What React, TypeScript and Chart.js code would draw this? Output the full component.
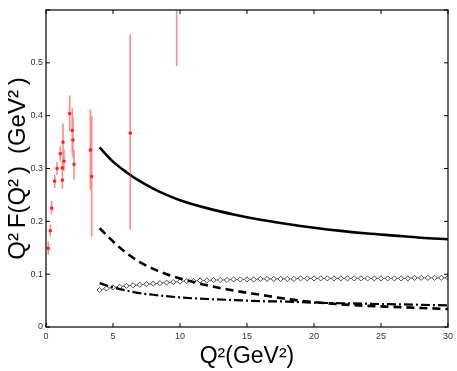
import React, { useEffect, useRef } from 'react';
import { Chart, registerables } from 'chart.js';

Chart.register(...registerables);

// Experimental data points (Q^2, Q^2 F) with error bar ends
const dataQ2 = [0.17, 0.32, 0.42, 0.65, 0.82, 1.07, 1.22, 1.22, 1.27, 1.34, 1.77, 1.96, 2.01, 2.09, 3.31, 3.41, 6.29, 9.75];
const dataF = [0.149, 0.182, 0.225, 0.276, 0.300, 0.328, 0.301, 0.278, 0.350, 0.314, 0.404, 0.372, 0.354, 0.308, 0.335, 0.285, 0.367, 0.700];
const errLow = [0.137, 0.171, 0.213, 0.263, 0.288, 0.314, 0.288, 0.261, 0.317, 0.295, 0.371, 0.330, 0.321, 0.279, 0.260, 0.171, 0.184, 0.494];
const errHigh = [0.162, 0.194, 0.238, 0.288, 0.312, 0.342, 0.314, 0.291, 0.385, 0.336, 0.438, 0.414, 0.397, 0.336, 0.412, 0.400, 0.554, 0.906];

// Solid curve
const solidQ2 = [4, 5, 6, 7, 8, 9, 10, 12, 14, 16, 18, 20, 22, 24, 26, 28, 30];
const solidF = [0.340, 0.313, 0.293, 0.276, 0.262, 0.250, 0.240, 0.225, 0.213, 0.203, 0.195, 0.188, 0.182, 0.177, 0.173, 0.169, 0.166];

// Dashed curve
const dashedQ2 = [4, 5, 6, 7, 8, 9, 10, 12, 14, 16, 18, 20, 22, 24, 26, 28, 30];
const dashedF = [0.187, 0.162, 0.140, 0.123, 0.110, 0.100, 0.092, 0.079, 0.069, 0.061, 0.053, 0.047, 0.043, 0.040, 0.038, 0.036, 0.034];

// Dash-dot curve
const dashDotQ2 = [4, 5, 6, 7, 8, 10, 12, 14, 16, 18, 20, 22, 24, 26, 28, 30];
const dashDotF = [0.083, 0.075, 0.069, 0.064, 0.061, 0.056, 0.053, 0.051, 0.049, 0.048, 0.046, 0.045, 0.044, 0.043, 0.042, 0.041];

// Diamond curve
const diamondQ2 = [4, 4.5, 5, 5.5, 6, 6.5, 7, 7.5, 8, 8.5, 9, 9.5, 10, 10.5, 11, 11.5, 12, 12.5, 13, 13.5, 14, 14.5, 15, 15.5, 16, 16.5, 17, 17.5, 18, 18.5, 19, 19.5, 20, 20.5, 21, 21.5, 22, 22.5, 23, 23.5, 24, 24.5, 25, 25.5, 26, 26.5, 27, 27.5, 28, 28.5, 29, 29.5, 30];
const diamondF = [0.070, 0.073, 0.075, 0.076, 0.078, 0.079, 0.080, 0.081, 0.082, 0.083, 0.084, 0.085, 0.086, 0.087, 0.087, 0.088, 0.088, 0.089, 0.089, 0.089, 0.090, 0.090, 0.090, 0.090, 0.091, 0.091, 0.091, 0.091, 0.091, 0.091, 0.092, 0.092, 0.092, 0.092, 0.092, 0.092, 0.092, 0.092, 0.092, 0.092, 0.092, 0.092, 0.092, 0.092, 0.092, 0.092, 0.092, 0.093, 0.093, 0.093, 0.093, 0.093, 0.093];

const xTicks = [0, 5, 10, 15, 20, 25, 30];
const yTicks = [0, 0.1, 0.2, 0.3, 0.4, 0.5, 0.6];

const framePlugin = {
  id: 'frame',
  afterDatasetsDraw(chart: any) {
    const { ctx, chartArea } = chart;
    const xs = chart.scales.x;
    const ys = chart.scales.y;
    ctx.save();
    ctx.strokeStyle = '#000';
    ctx.lineWidth = 1.2;
    ctx.strokeRect(chartArea.left, chartArea.top, chartArea.right - chartArea.left, chartArea.bottom - chartArea.top);
    ctx.lineWidth = 1;
    ctx.beginPath();
    const t = 4;
    xTicks.forEach((v) => {
      const px = xs.getPixelForValue(v);
      ctx.moveTo(px, chartArea.bottom);
      ctx.lineTo(px, chartArea.bottom - t);
      ctx.moveTo(px, chartArea.top);
      ctx.lineTo(px, chartArea.top + t);
    });
    yTicks.forEach((v) => {
      const py = ys.getPixelForValue(v);
      ctx.moveTo(chartArea.left, py);
      ctx.lineTo(chartArea.left + t, py);
      ctx.moveTo(chartArea.right, py);
      ctx.lineTo(chartArea.right - t, py);
    });
    ctx.stroke();
    ctx.restore();
  },
};

export default function App() {
  const ref = useRef<HTMLCanvasElement | null>(null);

  useEffect(() => {
    document.body.style.margin = '0';
    if (!ref.current) return;

    const errPts: any[] = [];
    dataQ2.forEach((q, i) => {
      errPts.push({ x: q, y: errLow[i] });
      errPts.push({ x: q, y: errHigh[i] });
      errPts.push({ x: q, y: null });
    });

    const chart = new Chart(ref.current, {
      type: 'scatter',
      data: {
        datasets: [
          {
            data: errPts,
            showLine: true,
            spanGaps: false,
            borderColor: 'rgba(255,40,40,0.55)',
            borderWidth: 1.6,
            pointRadius: 0,
          },
          {
            data: dataQ2.map((q, i) => ({ x: q, y: dataF[i] })),
            showLine: false,
            pointStyle: 'rect',
            pointRadius: 1.7,
            backgroundColor: '#ff0000',
            borderColor: '#ff0000',
            borderWidth: 0.5,
          },
          {
            data: solidQ2.map((q, i) => ({ x: q, y: solidF[i] })),
            showLine: true,
            borderColor: '#000',
            borderWidth: 2.6,
            pointRadius: 0,
            cubicInterpolationMode: 'monotone',
          },
          {
            data: dashedQ2.map((q, i) => ({ x: q, y: dashedF[i] })),
            showLine: true,
            borderColor: '#000',
            borderWidth: 2.6,
            borderDash: [8, 5],
            pointRadius: 0,
            cubicInterpolationMode: 'monotone',
          },
          {
            data: dashDotQ2.map((q, i) => ({ x: q, y: dashDotF[i] })),
            showLine: true,
            borderColor: '#000',
            borderWidth: 2.2,
            borderDash: [9, 3, 2, 3],
            pointRadius: 0,
            cubicInterpolationMode: 'monotone',
          },
          {
            data: diamondQ2.map((q, i) => ({ x: q, y: diamondF[i] })),
            showLine: true,
            borderColor: '#555',
            borderWidth: 0.8,
            pointStyle: 'rectRot',
            pointRadius: 2.6,
            pointBackgroundColor: '#fff',
            pointBorderColor: '#222',
            pointBorderWidth: 0.8,
          },
        ],
      },
      options: {
        responsive: false,
        animation: false,
        events: [],
        layout: { padding: { top: 10, right: 9, left: 0, bottom: 0 } },
        plugins: {
          legend: { display: false },
          tooltip: { enabled: false },
        },
        scales: {
          x: {
            type: 'linear',
            min: 0,
            max: 30,
            afterFit: (s: any) => { s.height = 44; },
            afterBuildTicks: (s: any) => { s.ticks = xTicks.map((v) => ({ value: v })); },
            grid: { display: false, drawTicks: false },
            border: { display: false },
            ticks: {
              color: '#333',
              font: { family: 'Liberation Sans', size: 9 },
              padding: 4,
              callback: (v: any) => String(v),
            },
            title: {
              display: true,
              text: 'Q²(GeV²)',
              color: '#000',
              font: { family: 'Liberation Sans', size: 23 },
              padding: { top: 0, bottom: 1 },
            },
          },
          y: {
            type: 'linear',
            min: 0,
            max: 0.6,
            afterFit: (s: any) => { s.width = 46; },
            afterBuildTicks: (s: any) => { s.ticks = yTicks.map((v) => ({ value: v })); },
            grid: { display: false, drawTicks: false },
            border: { display: false },
            ticks: {
              color: '#333',
              font: { family: 'Liberation Sans', size: 9 },
              padding: 3,
              callback: (v: any) => (v === 0 ? '0' : v >= 0.59 ? '' : Number(v).toFixed(1)),
            },
            title: {
              display: true,
              text: 'Q²\u2009F(Q²\u2009)\u2002(GeV²\u2009)',
              color: '#000',
              font: { family: 'Liberation Sans', size: 24 },
              padding: { top: 4, bottom: 0 },
            },
          },
        },
      },
      plugins: [framePlugin],
    } as any);

    return () => chart.destroy();
  }, []);

  return (
    <div style={{ width: 457, height: 371, background: '#fff' }}>
      <canvas ref={ref} width={457} height={371} style={{ display: 'block' }} />
    </div>
  );
}
